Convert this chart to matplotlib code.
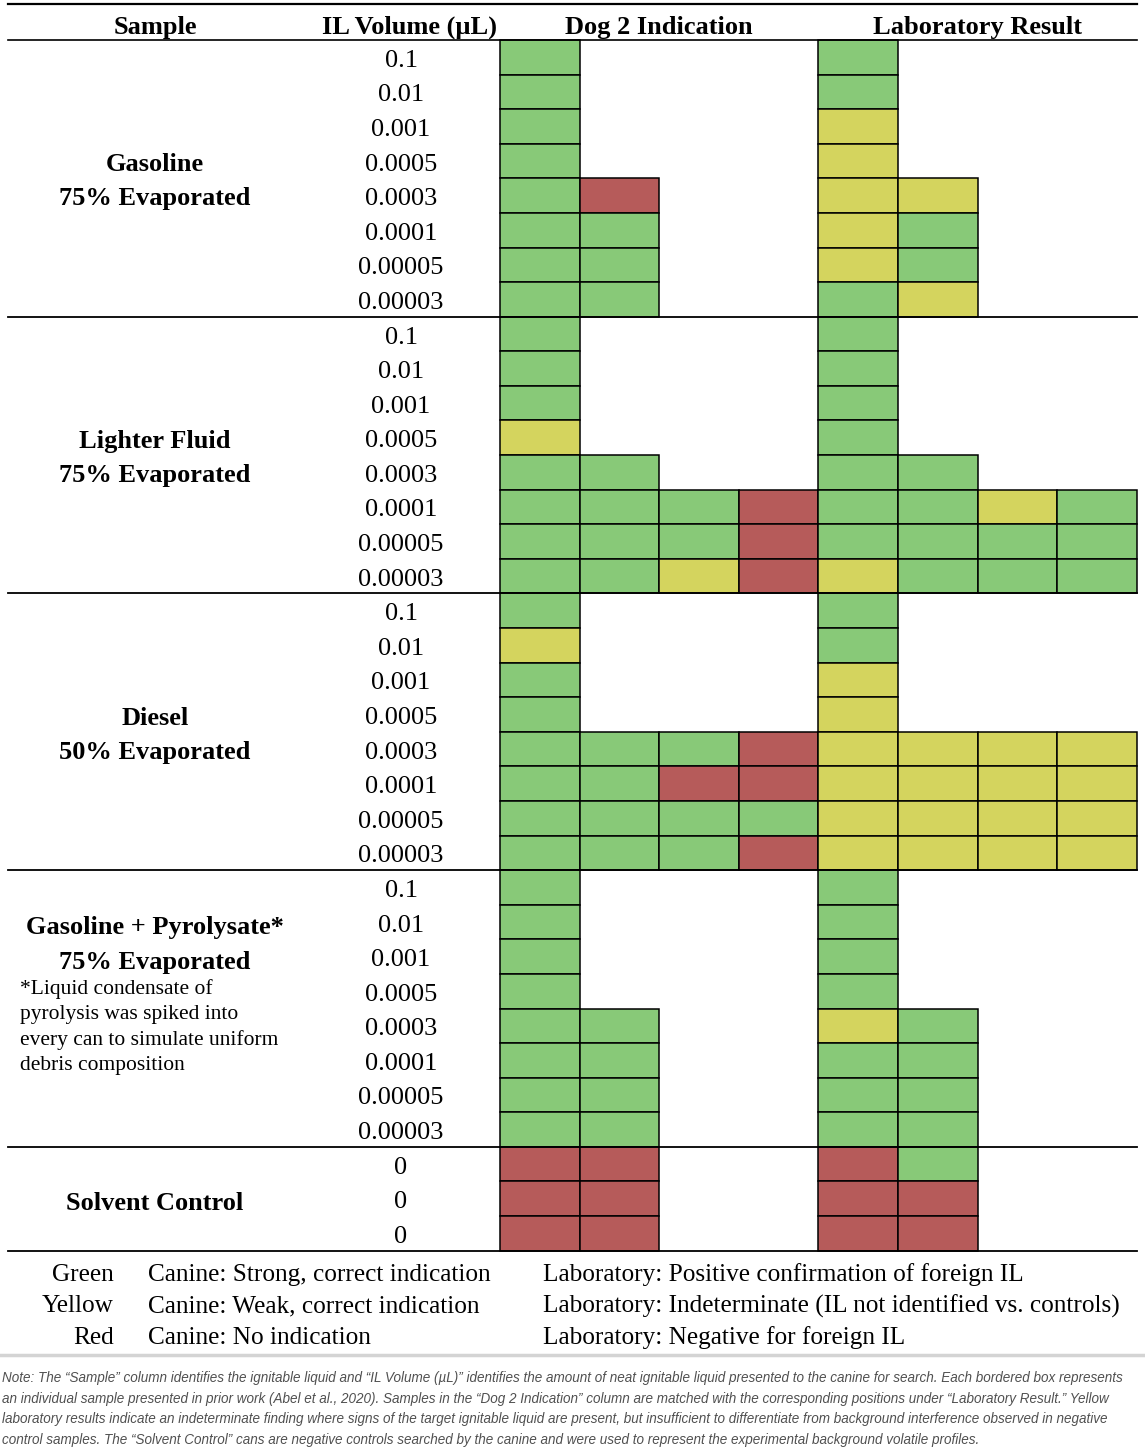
import matplotlib
matplotlib.use('Agg')
import matplotlib.pyplot as plt
from matplotlib.patches import Rectangle

# table content
volumes = ['0.1', '0.01', '0.001', '0.0005', '0.0003', '0.0001', '0.00005', '0.00003']
control_volumes = ['0', '0', '0']

samples = ['Gasoline\n75% Evaporated',
           'Lighter Fluid\n75% Evaporated',
           'Diesel\n50% Evaporated',
           'Gasoline + Pyrolysate*\n75% Evaporated',
           'Solvent Control']

# G = green, Y = yellow, R = red ; one letter per bordered box
gasoline_dog = ['G', 'G', 'G', 'G', 'GR', 'GG', 'GG', 'GG']
gasoline_lab = ['G', 'G', 'Y', 'Y', 'YY', 'YG', 'YG', 'GY']
lighter_dog = ['G', 'G', 'G', 'Y', 'GG', 'GGGR', 'GGGR', 'GGYR']
lighter_lab = ['G', 'G', 'G', 'G', 'GG', 'GGYG', 'GGGG', 'YGGG']
diesel_dog = ['G', 'Y', 'G', 'G', 'GGGR', 'GGRR', 'GGGG', 'GGGR']
diesel_lab = ['G', 'G', 'Y', 'Y', 'YYYY', 'YYYY', 'YYYY', 'YYYY']
pyro_dog = ['G', 'G', 'G', 'G', 'GG', 'GG', 'GG', 'GG']
pyro_lab = ['G', 'G', 'G', 'G', 'YG', 'GG', 'GG', 'GG']
control_dog = ['RR', 'RR', 'RR']
control_lab = ['RG', 'RR', 'RR']

legend_names = ['Green', 'Yellow', 'Red']
legend_canine = ['Canine: Strong, correct indication',
                 'Canine: Weak, correct indication',
                 'Canine: No indication']
legend_lab = ['Laboratory: Positive confirmation of foreign IL',
              'Laboratory: Indeterminate (IL not identified vs. controls)',
              'Laboratory: Negative for foreign IL']

footnote = ['*Liquid condensate of', 'pyrolysis was spiked into',
            'every can to simulate uniform', 'debris composition']

note_lines = [
    'Note: The \u201cSample\u201d column identifies the ignitable liquid and \u201cIL Volume (\u00b5L)\u201d identifies the amount of neat ignitable liquid presented to the canine for search. Each bordered box represents',
    'an individual sample presented in prior work (Abel et al., 2020). Samples in the \u201cDog 2 Indication\u201d column are matched with the corresponding positions under \u201cLaboratory Result.\u201d Yellow',
    'laboratory results indicate an indeterminate finding where signs of the target ignitable liquid are present, but insufficient to differentiate from background interference observed in negative',
    'control samples. The \u201cSolvent Control\u201d cans are negative controls searched by the canine and were used to represent the experimental background volatile profiles.',
]

colors = {'G': '#88c978', 'Y': '#d4d45e', 'R': '#b65b5a'}

sections = [
    (volumes, gasoline_dog, gasoline_lab),
    (volumes, lighter_dog, lighter_lab),
    (volumes, diesel_dog, diesel_lab),
    (volumes, pyro_dog, pyro_lab),
    (control_volumes, control_dog, control_lab),
]

W, H = 1145, 1447
fig = plt.figure(figsize=(W / 100, H / 100), dpi=100)
ax = fig.add_axes([0, 0, 1, 1])
ax.set_xlim(0, W)
ax.set_ylim(H, 0)
ax.axis('off')

serif = 'Liberation Serif'
left, right = 8, 1137
top = 40
rh = 34.59
dog_x = 500
cw = 79.6
lab_x = dog_x + 4 * cw
vol_x = 401
dy = 3.5  # serif text sits a little low in its row

# header
ax.plot([left, right], [4, 4], color='black', lw=1.6)
ax.plot([left, right], [top, top], color='black', lw=1.2)
for x, s in [(155, 'Sample'), (410, 'IL Volume (\u00b5L)'),
             (dog_x + 2 * cw, 'Dog 2 Indication'), (lab_x + 2 * cw, 'Laboratory Result')]:
    ax.text(x, 24 + dy, s, ha='center', va='center', fontsize=19,
            fontweight='bold', family=serif)

y = top
for k, (vols, dog, lab) in enumerate(sections):
    y0 = y
    for i, v in enumerate(vols):
        yc = y + rh / 2
        ax.text(vol_x, yc + dy, v, ha='center', va='center', fontsize=19, family=serif)
        for x0, codes in [(dog_x, dog[i]), (lab_x, lab[i])]:
            for j, c in enumerate(codes):
                ax.add_patch(Rectangle((x0 + j * cw, y), cw, rh, facecolor=colors[c],
                                       edgecolor='black', lw=1.1))
        y += rh
    ymid = (y0 + y) / 2
    label = samples[k].split('\n')
    if k == 3:
        ax.text(155, y0 + 54 + dy, label[0], ha='center', va='center', fontsize=19,
                fontweight='bold', family=serif)
        ax.text(155, y0 + 89 + dy, label[1], ha='center', va='center', fontsize=19,
                fontweight='bold', family=serif)
        for n, line in enumerate(footnote):
            ax.text(20, y0 + 119 + n * 25.3, line, ha='left', va='center',
                    fontsize=15.5, family=serif)
    elif len(label) == 2:
        ax.text(155, ymid - 17 + dy, label[0], ha='center', va='center', fontsize=19,
                fontweight='bold', family=serif)
        ax.text(155, ymid + 17 + dy, label[1], ha='center', va='center', fontsize=19,
                fontweight='bold', family=serif)
    else:
        ax.text(155, ymid + 1 + dy, label[0], ha='center', va='center', fontsize=19,
                fontweight='bold', family=serif)
    ax.plot([left, right], [y, y], color='black', lw=1.3, zorder=3)

# legend
for n in range(3):
    yl = 1275 + n * 31.5
    ax.text(114, yl, legend_names[n], ha='right', va='center', fontsize=18.2, family=serif)
    ax.text(148, yl, legend_canine[n], ha='left', va='center', fontsize=18.2, family=serif)
    ax.text(543, yl, legend_lab[n], ha='left', va='center', fontsize=18.2, family=serif)

ax.plot([0, W], [1355, 1355], color='#d4d4d4', lw=2.5)

# note, sized so that the first line spans the page
renderer = fig.canvas.get_renderer()
probe = ax.text(2, 1377, note_lines[0], fontsize=10, style='italic',
                family='Liberation Sans')
wpx = probe.get_window_extent(renderer).width
probe.remove()
note_size = 10 * 1129 / wpx
for n, line in enumerate(note_lines):
    ax.text(2, 1378 + n * 20.7, line, ha='left', va='center', fontsize=note_size,
            style='italic', family='Liberation Sans', color='#505050')

plt.savefig('out.png', dpi=100)
